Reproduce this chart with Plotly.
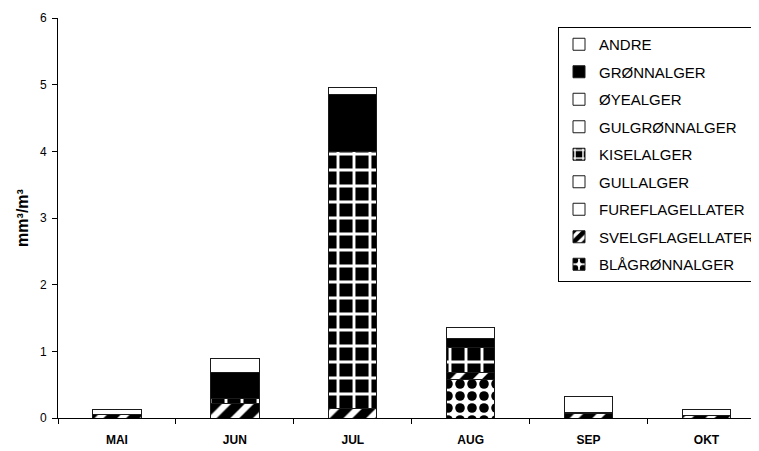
import plotly.graph_objects as go

months = ["MAI", "JUN", "JUL", "AUG", "SEP", "OKT"]

# stacked bottom -> top
blagronnalger = [0, 0, 0, 0.58, 0, 0]
svelgflagellater = [0.06, 0.22, 0.145, 0.11, 0.07, 0.045]
fureflagellater = [0, 0, 0, 0, 0, 0]
gullalger = [0, 0, 0, 0, 0, 0]
kiselalger = [0, 0.07, 3.85, 0.37, 0, 0]
gulgronnalger = [0, 0, 0, 0, 0, 0]
oyealger = [0, 0, 0, 0, 0, 0]
gronnalger = [0, 0.40, 0.86, 0.13, 0.02, 0]
andre = [0.075, 0.20, 0.105, 0.165, 0.24, 0.09]

y_ticks = [0, 1, 2, 3, 4, 5, 6]

series = [
    ("BLÅGRØNNALGER", blagronnalger, dict(shape=".", fgcolor="black", bgcolor="white", size=12, solidity=0.5, fillmode="replace")),
    ("SVELGFLAGELLATER", svelgflagellater, dict(shape="/", fgcolor="black", bgcolor="white", size=16, solidity=0.6, fillmode="replace")),
    ("FUREFLAGELLATER", fureflagellater, None),
    ("GULLALGER", gullalger, None),
    ("KISELALGER", kiselalger, dict(shape="+", fgcolor="white", bgcolor="black", size=16, solidity=0.33, fillmode="replace")),
    ("GULGRØNNALGER", gulgronnalger, None),
    ("ØYEALGER", oyealger, None),
    ("GRØNNALGER", gronnalger, "solid"),
    ("ANDRE", andre, None),
]

fig = go.Figure()
n = len(series)
for i, (name, vals, pat) in enumerate(series):
    marker = dict(line=dict(color="#1a1a1a", width=1))
    if pat is None:
        marker["color"] = "white"
    elif pat == "solid":
        marker["color"] = "black"
    else:
        marker["color"] = pat["bgcolor"]
        marker["pattern"] = pat
    fig.add_trace(go.Bar(
        x=months, y=vals, name=name, marker=marker,
        width=0.41, legendgroup=f"g{i}", legendrank=n - i,
    ))

fig.update_layout(
    barmode="stack",
    width=751, height=443,
    margin=dict(l=50, r=0, t=10, b=33, pad=0, autoexpand=False),
    paper_bgcolor="white", plot_bgcolor="white",
    font=dict(family="Liberation Sans, Arial, sans-serif", color="black"),
    showlegend=True,
    legend=dict(
        traceorder="grouped", tracegroupgap=5,
        x=(558 - 58) / 701, y=1 - (27 - 18) / 400, xanchor="left", yanchor="top",
        bordercolor="black", borderwidth=1, bgcolor="white",
        font=dict(size=15, family="Liberation Sans, Arial, sans-serif"),
        itemwidth=30,
    ),
    xaxis=dict(
        type="category", range=[-0.5, 5.445],
        showline=True, linecolor="black", linewidth=1,
        ticks="outside", ticklen=5, tickcolor="black", tickson="boundaries",
        tickfont=dict(size=12, family="Liberation Sans, Arial, sans-serif"),
        ticklabelstandoff=11,
        showgrid=False, zeroline=False,
    ),
    yaxis=dict(
        range=[0, 6], tickvals=y_ticks,
        showline=True, linecolor="black", linewidth=1,
        ticks="outside", ticklen=5, tickcolor="black",
        tickfont=dict(size=12, family="Liberation Sans, Arial, sans-serif"),
        ticklabelstandoff=3,
        showgrid=False, zeroline=False,
        title=dict(text="<b>mm³/m³</b>", font=dict(size=16), standoff=7),
    ),
)
fig.update_xaxes(tickprefix="<b>", ticksuffix="</b>")
fig.update_yaxes(tickprefix="<b>", ticksuffix="</b>")

fig.write_html("out.html")
